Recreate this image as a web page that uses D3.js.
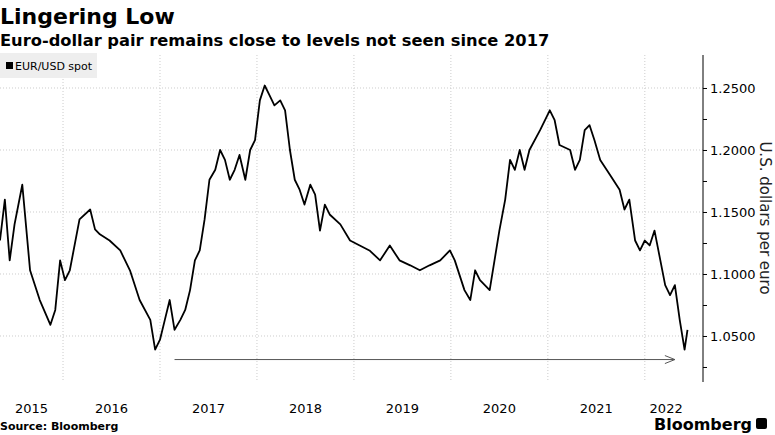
<!DOCTYPE html>
<html><head><meta charset="utf-8">
<script src="https://cdn.jsdelivr.net/npm/d3@7"></script>
<style>body{margin:0;background:#fff;font-family:"DejaVu Sans",sans-serif}</style>
</head><body><svg id="c" width="775" height="435"></svg>
<script>
// decimal years and EUR/USD values
const times = [2015.35,2015.40,2015.45,2015.50,2015.58,2015.66,2015.76,2015.87,2015.92,2015.97,2016.02,2016.07,2016.17,2016.28,2016.33,2016.38,2016.48,2016.59,2016.69,2016.79,2016.90,2016.95,2017.00,2017.05,2017.10,2017.15,2017.21,2017.26,2017.31,2017.36,2017.41,2017.46,2017.51,2017.57,2017.62,2017.67,2017.72,2017.77,2017.82,2017.88,2017.93,2017.98,2018.03,2018.08,2018.13,2018.18,2018.24,2018.29,2018.34,2018.39,2018.44,2018.49,2018.55,2018.60,2018.65,2018.70,2018.75,2018.86,2018.96,2019.06,2019.16,2019.27,2019.37,2019.47,2019.58,2019.68,2019.78,2019.89,2019.99,2020.04,2020.14,2020.20,2020.25,2020.30,2020.40,2020.45,2020.50,2020.56,2020.61,2020.66,2020.71,2020.76,2020.81,2020.92,2021.02,2021.07,2021.12,2021.23,2021.28,2021.33,2021.38,2021.43,2021.48,2021.54,2021.64,2021.74,2021.79,2021.84,2021.90,2021.95,2022.00,2022.05,2022.10,2022.15,2022.21,2022.26,2022.31,2022.36,2022.41,2022.44];
const values = [1.127,1.160,1.111,1.140,1.172,1.103,1.079,1.059,1.071,1.111,1.095,1.103,1.144,1.152,1.136,1.132,1.127,1.119,1.103,1.079,1.063,1.039,1.047,1.063,1.079,1.055,1.063,1.071,1.087,1.111,1.119,1.144,1.176,1.184,1.200,1.192,1.176,1.184,1.196,1.176,1.200,1.208,1.240,1.252,1.244,1.236,1.240,1.232,1.200,1.176,1.168,1.156,1.172,1.164,1.135,1.156,1.148,1.140,1.127,1.123,1.119,1.111,1.123,1.111,1.107,1.103,1.107,1.111,1.119,1.111,1.087,1.079,1.103,1.095,1.087,1.111,1.135,1.160,1.192,1.184,1.200,1.184,1.200,1.216,1.232,1.224,1.204,1.200,1.184,1.192,1.216,1.220,1.208,1.192,1.180,1.168,1.152,1.160,1.127,1.119,1.127,1.123,1.135,1.115,1.091,1.083,1.091,1.063,1.039,1.055];
const yearTicks = [2016,2017,2018,2019,2020,2021,2022];
const yearLabels = ["2015","2016","2017","2018","2019","2020","2021","2022"];
const yTicks = [1.05,1.10,1.15,1.20,1.25];
const arrowFrom = 2017.15, arrowTo = 2022.31, arrowLevel = 1.031;

const svg = d3.select('#c');
const x = d3.scaleLinear().domain([2015.35, 2022.6]).range([0, 703]);
const y = d3.scaleLinear().domain([1.0129, 1.2766]).range([382, 55]);

//Title block
svg.append('text').attr('x',0).attr('y',24).attr('font-size',22).attr('font-weight','bold').text('Lingering Low');
svg.append('text').attr('x',0).attr('y',46).attr('font-size',16.3).attr('font-weight','bold').text('Euro-dollar pair remains close to levels not seen since 2017');

//Gridlines
svg.append('g').selectAll('line').data(yTicks).join('line')
  .attr('x1',0).attr('x2',703).attr('y1',d=>y(d)).attr('y2',d=>y(d))
  .attr('stroke','#ccc').attr('stroke-dasharray','1,2');
svg.append('g').selectAll('line').data(yearTicks).join('line')
  .attr('x1',d=>x(d)).attr('x2',d=>x(d)).attr('y1',55).attr('y2',382)
  .attr('stroke','#ccc').attr('stroke-dasharray','1,2');

//Legend
svg.append('rect').attr('x',0).attr('y',53).attr('width',97).attr('height',25).attr('fill','#eee');
svg.append('rect').attr('x',6).attr('y',62).attr('width',7).attr('height',7).attr('fill','#000');
svg.append('text').attr('x',15).attr('y',70).attr('font-size',11).text('EUR/USD spot');

//Right axis
const axis = d3.axisRight(y).tickValues(d3.range(1.025,1.27,0.025)).tickSize(4)
  .tickFormat(d => yTicks.some(t => Math.abs(t-d)<1e-6) ? d3.format('.4f')(d) : '');
const ag = svg.append('g').attr('transform','translate(703,0)').call(axis);
ag.select('.domain').attr('d','M0,55V382').attr('stroke','#000');
ag.selectAll('text').attr('font-size',13).attr('x',7).attr('fill','#000').attr('font-family','DejaVu Sans');
svg.append('text').attr('transform','translate(760,218) rotate(90)').attr('text-anchor','middle')
  .attr('font-size',15).attr('fill','#222').text('U.S. dollars per euro');

//Line
const pts = times.map((t,i)=>[t, values[i]]);
svg.append('path').datum(pts).attr('fill','none').attr('stroke','#000').attr('stroke-width',1.8)
  .attr('stroke-linejoin','round')
  .attr('d', d3.line().x(d=>x(d[0])).y(d=>y(d[1])));

//Arrow
svg.append('line').attr('x1',x(arrowFrom)).attr('x2',x(arrowTo)).attr('y1',y(arrowLevel)).attr('y2',y(arrowLevel))
  .attr('stroke','#555').attr('stroke-width',1);
svg.append('path').attr('d',`M${x(arrowTo)-10},${y(arrowLevel)-4}L${x(arrowTo)},${y(arrowLevel)}L${x(arrowTo)-10},${y(arrowLevel)+4}`)
  .attr('fill','none').attr('stroke','#555');

//Year labels centred in each year
const bounds = [2015.35, ...yearTicks, 2022.44];
svg.append('g').selectAll('text').data(yearLabels).join('text')
  .attr('x',(d,i)=>x((bounds[i]+bounds[i+1])/2)).attr('y',413).attr('text-anchor','middle')
  .attr('font-size',13).text(d=>d);

//Footer
svg.append('text').attr('x',0).attr('y',430).attr('font-size',11).attr('font-weight','bold').text('Source: Bloomberg');
svg.append('text').attr('x',752).attr('y',430).attr('text-anchor','end').attr('font-size',16).attr('font-weight','bold').text('Bloomberg');
svg.append('rect').attr('x',756).attr('y',418).attr('width',11).attr('height',11).attr('rx',2).attr('fill','#000');
</script></body></html>
